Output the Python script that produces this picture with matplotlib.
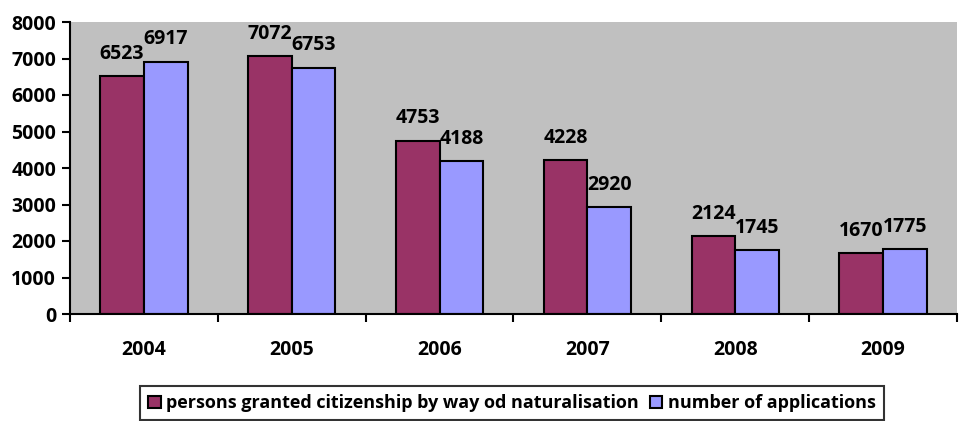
import numpy as np
import matplotlib
matplotlib.use('Agg')
import matplotlib.pyplot as plt

years = ['2004', '2005', '2006', '2007', '2008', '2009']
granted = [6523, 7072, 4753, 4228, 2124, 1670]
applications = [6917, 6753, 4188, 2920, 1745, 1775]
label_granted = 'persons granted citizenship by way od naturalisation'
label_applications = 'number of applications'

plt.rcParams.update({
	'font.family': ['Open Sans', 'DejaVu Sans'],
	'font.weight': 'bold',
	'font.size': 14,
})

fig = plt.figure(figsize=(9.62, 4.21), dpi=100)
ax = fig.add_axes([70/962, 1 - 314/421, (957-70)/962, (314-22)/421])
ax.set_facecolor('#C0C0C0')

x = np.arange(len(years))
w = 0.295
b1 = ax.bar(x - w/2, granted, w, color='#993366', edgecolor='black', linewidth=1.5, label=label_granted)
b2 = ax.bar(x + w/2, applications, w, color='#9999FF', edgecolor='black', linewidth=1.5, label=label_applications)
# data labels sit a bit above each bar, like Excel
for bars in (b1, b2):
	for r in bars:
		ax.text(r.get_x() + r.get_width()/2, r.get_height() + 470, str(int(r.get_height())),
			ha='center', va='baseline', fontweight='bold', fontsize=14)

ax.set_xlim(-0.5, len(years) - 0.5)
ax.set_ylim(0, 8000)
ax.set_yticks(range(0, 8001, 1000))
ax.set_xticks(x)
ax.set_xticklabels(years, fontweight='bold')
ax.set_xticks(np.arange(-0.5, len(years)), minor=True)
ax.tick_params(axis='x', which='major', length=0, pad=19)
ax.tick_params(axis='x', which='minor', length=6, width=1.5, direction='out')
ax.tick_params(axis='y', length=6, width=1.5, direction='out', pad=4)
for s in ['top', 'right']:
	ax.spines[s].set_visible(False)
for s in ['left', 'bottom']:
	ax.spines[s].set_linewidth(1.5)

leg = fig.legend(loc='lower center', bbox_to_anchor=(0.532, -0.02), ncol=2, frameon=True,
	fancybox=False, edgecolor='black', handlelength=0.7, handleheight=0.7,
	handletextpad=0.3, columnspacing=0.6, borderpad=0.45, prop={'weight': 'bold', 'size': 13})
leg.get_frame().set_linewidth(1.5)
for h in leg.legend_handles:
	h.set_linewidth(1.5)
	h.set_edgecolor('black')

fig.savefig('out.png', dpi=100)
